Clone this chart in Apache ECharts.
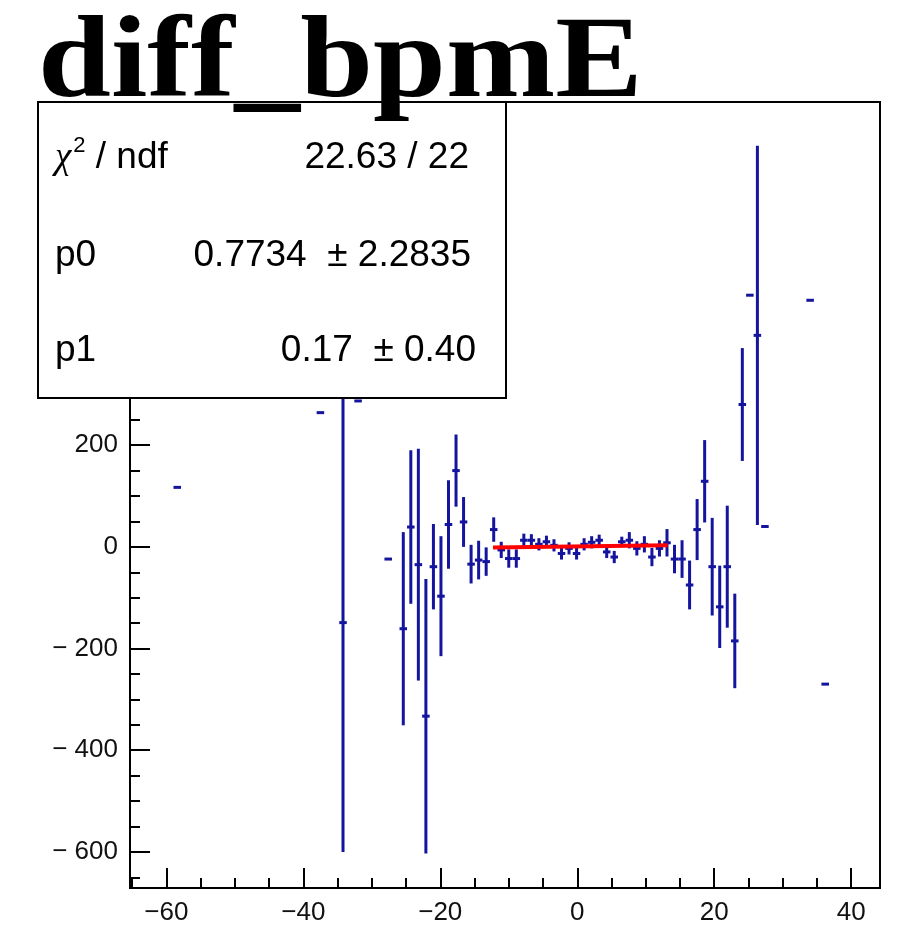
<!DOCTYPE html>
<html><head><meta charset="utf-8">
<script src="https://cdn.jsdelivr.net/npm/echarts@6/dist/echarts.min.js"></script>
<style>html,body{margin:0;padding:0;background:#fff}#c{width:909px;height:937px}</style>
</head><body><div id="c"></div>
<script>
// ---- data ----
const binX = [-58.4,-37.5,-34.2,-32.0,-27.6, -25.4,-24.3,-23.2,-22.1,-21.0, -19.9,-18.8,-17.7,-16.6,-15.5, -14.4,-13.3,-12.2,-11.1,-10.0, -8.9,-7.8,-6.7,-5.6,-4.5, -3.4,-2.3,-1.2,-0.1,1.0, 2.1,3.2,4.3,5.4,6.5, 7.6,8.7,9.8,10.9,12.0, 13.1,14.2,15.3,16.4,17.5, 18.6,19.7,20.8,21.9,23.0, 24.1,25.2,26.3,27.4,34.0, 36.2];
const binY = [117,264,-149,287,-24, -161,39,-35,-333,-39, -97,44,150,49,-34, -26,-29,34,-6,-23, -23,13,13,5,10, 3,-13,-3,-13,5, 9,13,-10,-20,10, 13,-3,5,-20,-3, 8,-24,-24,-75,34, 129,-39,-118,-39,-185, 280,495,416,40,485, -270];
const binErr = [0,0,451,0,0, 190,151,228,270,84, 118,87,71,49,38, 38,28,24,16,18, 18,13,12,12,12, 12,12,12,12,12, 12,11,12,12,10, 16,14,16,18,16, 27,28,37,48,60, 81,96,81,120,93, 111,0,373,0,0, 0];
const binWidth = 1.1;
const fitP0 = 0.7734, fitP1 = 0.17;
const fitRange = [-12.3, 13.2];
const xMajorTicks = [-60,-40,-20,0,20,40];
const xMinorTicks = [-65,-55,-50,-45,-35,-30,-25,-15,-10,-5,5,10,15,25,30,35];
const yMajorTicks = [-600,-400,-200,0,200,400,600,800];
const yMinorTicks = [-650,-550,-500,-450,-350,-300,-250,-150,-100,-50,50,100,150,250,300,350,450,500,550,650,700,750,850];
const xRange = [-65.3, 44.2];
const yRange = [-671, 875];
const titleText = 'diff_bpmE';
const statsRows = [["{chi|χ}{sup|2} / ndf","22.63 / 22"],["p0","0.7734  ± 2.2835"],["p1","0.17  ± 0.40"]];

// ---- build ----
const pts = binX.map((x,i)=>[x,binY[i],binErr[i]]);
const fitLine = fitRange.map(x=>[x, fitP0 + fitP1*x]);
const fmtY = v => v < 0 ? '\u2212 ' + Math.abs(v) : String(v);
const fmtX = v => v < 0 ? '\u2212' + Math.abs(v) : String(v);
const chart = echarts.init(document.getElementById('c'), null, {renderer:'canvas'});
const labelFont = {fontFamily:'Liberation Sans, Arial, sans-serif', fontSize:26, color:'#111'};
function mkX(show, ticks, len){
  return {type:'value', min:xRange[0], max:xRange[1], position:'bottom',
    axisLine:{show:false, onZero:false}, splitLine:{show:false},
    axisTick:{show:true, inside:true, length:len, customValues:ticks, lineStyle:{color:'#000', width:2}},
    axisLabel:Object.assign({show:show, customValues:ticks, formatter:fmtX, margin:12}, labelFont)};
}
function mkY(show, ticks, len){
  return {type:'value', min:yRange[0], max:yRange[1], position:'left',
    axisLine:{show:false, onZero:false}, splitLine:{show:false},
    axisTick:{show:true, inside:true, length:len, customValues:ticks, lineStyle:{color:'#000', width:2}},
    axisLabel:Object.assign({show:show, customValues:ticks, formatter:fmtY, margin:12}, labelFont)};
}
const barColor = '#14149e';
const statFont = '37px "Liberation Sans", Arial, sans-serif';
const graphics = [
  {type:'rect', shape:{x:38, y:102, width:468, height:296}, style:{fill:'#fff', stroke:'#000', lineWidth:2}, z:100},
];
const rowY = [158, 256, 351];
const rightX = [469, 471, 476];
statsRows.forEach((r,i)=>{
  graphics.push({type:'text', x:55, y:rowY[i], z:101, style:{text:r[0], fill:'#000', font:statFont, verticalAlign:'middle', align:'left',
     rich:{chi:{fontSize:37, fontFamily:'Liberation Serif', fontStyle:'italic'},
           sup:{fontSize:22, verticalAlign:'top', padding:[0,0,24,2], fontFamily:'Liberation Sans'}}}});
  graphics.push({type:'text', x:rightX[i], y:rowY[i], z:101, style:{text:r[1], fill:'#000', font:statFont, verticalAlign:'middle', align:'right'}});
});
graphics.push({type:'text', x:38, y:124, scaleX:1.13, z:102, style:{x:0, y:0, text:titleText, fill:'#000', font:'bold 116px "Liberation Serif", "Times New Roman", serif', verticalAlign:'bottom', align:'left'}});

chart.setOption({
  animation:false,
  backgroundColor:'#fff',
  grid:{left:130, right:29, top:102, bottom:49, show:true, borderColor:'#000', borderWidth:2, backgroundColor:'transparent'},
  xAxis:[mkX(true, xMajorTicks, 20), mkX(false, xMinorTicks, 10)],
  yAxis:[mkY(true, yMajorTicks, 20), mkY(false, yMinorTicks, 10)],
  series:[
    {type:'custom', xAxisIndex:0, yAxisIndex:0, clip:true, data:pts,
     renderItem:function(params, api){
       const x=api.value(0), y=api.value(1), e=api.value(2);
       const L=api.coord([x-binWidth/2,y]), R=api.coord([x+binWidth/2,y]);
       const ch=[{type:'line', shape:{x1:L[0],y1:L[1],x2:R[0],y2:R[1]}, style:{stroke:barColor, lineWidth:3}}];
       if(e>0){const T=api.coord([x,y+e]), B=api.coord([x,y-e]);
         ch.push({type:'line', shape:{x1:T[0],y1:T[1],x2:B[0],y2:B[1]}, style:{stroke:barColor, lineWidth:3}});}
       return {type:'group', children:ch};
     }},
    {type:'line', xAxisIndex:0, yAxisIndex:0, data:fitLine, symbol:'none', lineStyle:{color:'#ff0000', width:4}, z:5}
  ],
  graphic:graphics
});
</script></body></html>
